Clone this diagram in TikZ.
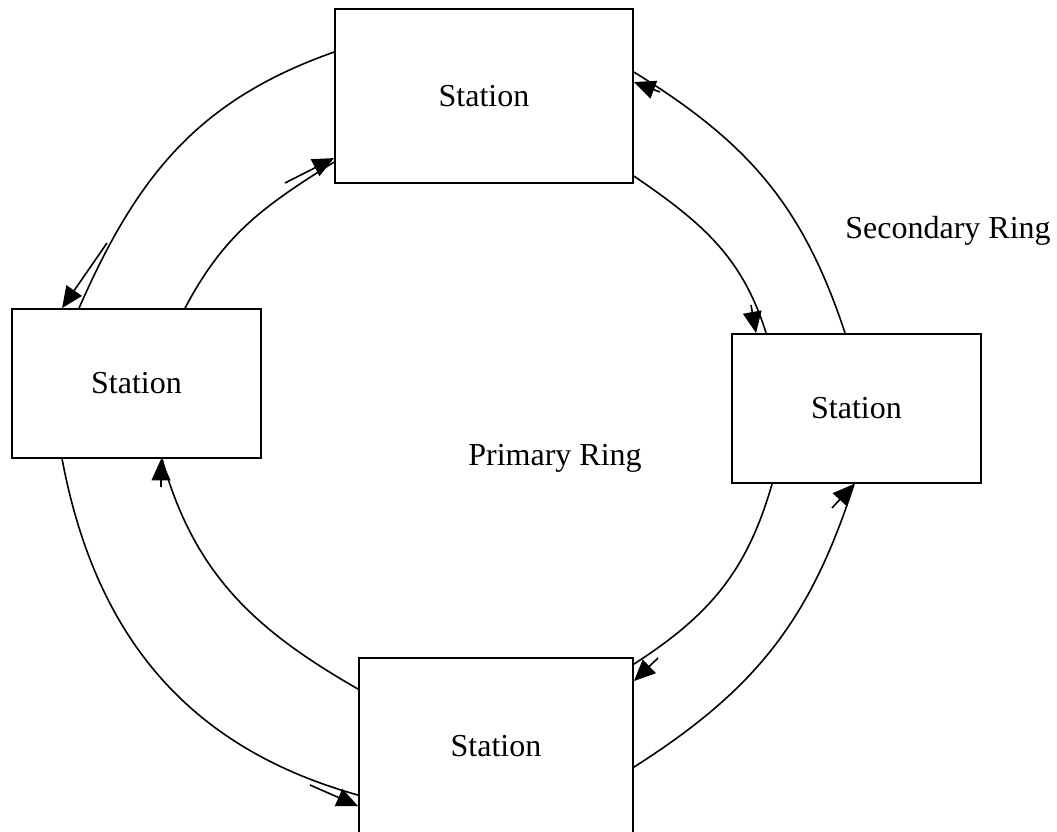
\documentclass[tikz,border=0pt]{standalone}
\usepackage{fontspec}
\setmainfont{Liberation Serif}
\usetikzlibrary{arrows.meta,calc}
\begin{document}
\begin{tikzpicture}[x=0.75pt,y=-0.75pt,
  station/.style={draw,line width=1.4pt,inner sep=0pt,font=\fontsize{24}{28}\selectfont},
  lbl/.style={inner sep=0pt,font=\fontsize{24}{28}\selectfont},
  ring/.style={line width=1.2pt},
  ringarrow/.style={line width=1.2pt,-{Triangle[length=16pt,width=14pt]}}]
\useasboundingbox (0,0) rectangle (1057,832);
\clip (0,0) rectangle (1057,832);
% stations
\node[station,minimum width=298*0.75pt,minimum height=174*0.75pt] (T) at (484,96) {Station};
\node[station,minimum width=249*0.75pt,minimum height=149*0.75pt] (L) at (136.5,383.5) {Station};
\node[station,minimum width=249*0.75pt,minimum height=149*0.75pt] (R) at (856.5,408.5) {Station};
\node[station,minimum width=274*0.75pt,minimum height=176*0.75pt] (B) at (496,746) {Station};
% labels
\node[lbl] (sec) at (948,231) {Secondary Ring};
\node[lbl] (pri) at (555,458) {Primary Ring};
% end points on the boxes
\coordinate (a1) at ($(T.north west)+(0,44)$);
\coordinate (a2) at ($(L.north west)+(68,0)$);
\coordinate (a3) at ($(L.north west)+(51,0)$);
\coordinate (b1) at ($(L.north west)+(174,0)$);
\coordinate (b2) at ($(T.north west)+(0,154)$);
\coordinate (b3) at ($(T.north west)+(0,150)$);
\coordinate (c1) at ($(R.north west)+(114,0)$);
\coordinate (c2) at ($(T.north east)+(0,64)$);
\coordinate (c3) at ($(T.north east)+(0,74)$);
\coordinate (d1) at ($(T.north east)+(0,168)$);
\coordinate (d2) at ($(R.north west)+(35,0)$);
\coordinate (d3) at ($(R.north west)+(25,0)$);
\coordinate (e1) at ($(B.north east)+(0,110)$);
\coordinate (e2) at ($(R.south west)+(123,0)$);
\coordinate (f1) at ($(R.south west)+(41,0)$);
\coordinate (f2) at ($(B.north east)+(0,7)$);
\coordinate (f3) at ($(B.north east)+(0,24)$);
\coordinate (g1) at ($(L.south west)+(51,0)$);
\coordinate (g2) at ($(B.north west)+(0,138)$);
\coordinate (g3) at ($(B.north west)+(0,149)$);
\coordinate (h1) at ($(B.north west)+(0,32)$);
\coordinate (h2) at ($(L.south west)+(151,0)$);
\coordinate (h3) at ($(L.south west)+(150,0)$);
% free ends of the short arrows
\coordinate (aa) at (107,243);
\coordinate (ba) at (285,183);
\coordinate (ca) at (660,92);
\coordinate (da) at (751,305);
\coordinate (ea) at (832,508);
\coordinate (fa) at (658,658);
\coordinate (ga) at (310,785);
\coordinate (ha) at (161,487);
% ring curves
\draw[ring] (a1) .. controls (198,100) and (137,176) .. (a2);
\draw[ring] (b1) .. controls (224,234) and (264,206) .. (b2);
\draw[ring] (c1) .. controls (803,206) and (749,143) .. (c2);
\draw[ring] (d1) .. controls (701,222) and (742,256) .. (d2);
\draw[ring] (e1) .. controls (755,690) and (810,621) .. (e2);
\draw[ring] (f1) .. controls (747,571) and (710,615) .. (f2);
\draw[ring] (g1) .. controls (95,634) and (186,747) .. (g2);
\draw[ring] (h1) .. controls (255,630) and (194,574) .. (h2);
% short arrows
\draw[ringarrow] (aa) -- (a3);
\draw[ringarrow] (ba) -- (b3);
\draw[ringarrow] (ca) -- (c3);
\draw[ringarrow] (da) -- (d3);
\draw[ringarrow] (ea) -- (e2);
\draw[ringarrow] (fa) -- (f3);
\draw[ringarrow] (ga) -- (g3);
\draw[ringarrow] (ha) -- (h3);
\end{tikzpicture}
\end{document}
